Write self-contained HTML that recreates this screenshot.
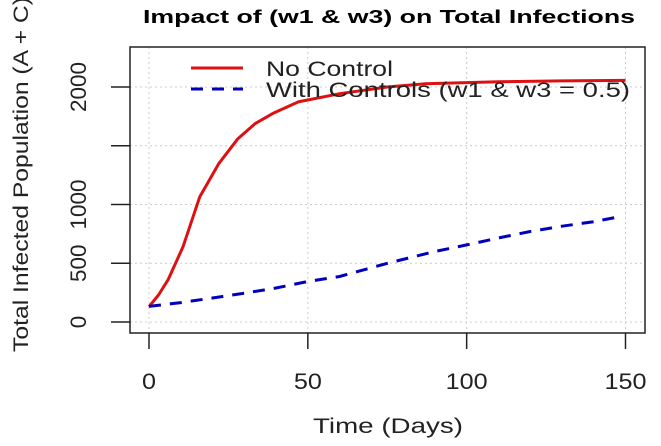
<!DOCTYPE html>
<html><head><meta charset="utf-8"><style>
html,body{margin:0;padding:0;background:#fff;}
svg{display:block;font-family:"Liberation Sans",Arial,sans-serif;}
</style></head><body>
<svg id="chart" width="661" height="446" viewBox="0 0 661 446">
<text x="143" y="23" font-size="18" font-weight="bold" fill="#000" textLength="492" lengthAdjust="spacingAndGlyphs">Impact of (w1 &amp; w3) on Total Infections</text>
<g id="grid"></g>
<g id="series"></g>
<rect x="130" y="47" width="515" height="286" fill="none" stroke="#222" stroke-width="1.5"/>
<g id="axes"></g>
<text x="313" y="433" font-size="21" fill="#222" textLength="150" lengthAdjust="spacingAndGlyphs">Time (Days)</text>
<text transform="translate(28,352) rotate(-90)" font-size="21" fill="#222" textLength="355" lengthAdjust="spacingAndGlyphs">Total Infected Population (A + C)</text>
<g>
<line x1="191" y1="68" x2="243" y2="68" stroke="#d11" stroke-width="3"/>
<text x="266" y="76" font-size="21" fill="#222" textLength="127" lengthAdjust="spacingAndGlyphs">No Control</text>
<line x1="191" y1="89" x2="243" y2="89" stroke="#00b" stroke-width="3" stroke-dasharray="12,9"/>
<text x="266" y="97" font-size="21" fill="#222" textLength="364" lengthAdjust="spacingAndGlyphs">With Controls (w1 &amp; w3 = 0.5)</text>
</g>
</svg>
<script>
const xTicks = [0, 50, 100, 150];
const yTicks = [0, 500, 1000, 2000];
const yGrid = [0, 500, 1000, 1500, 2000];
const noControlT = [0, 3, 6, 10.7, 16, 22, 28, 33.5, 39, 47, 60, 75, 87, 110, 130, 150];
const noControlV = [130, 230, 360, 640, 1066, 1350, 1560, 1690, 1775, 1873, 1943, 2000, 2028, 2045, 2052, 2056];
const controlT = [0, 10, 20, 30, 40, 50, 60, 75, 90, 100, 110, 120, 130, 140, 148];
const controlV = [133, 165, 204, 245, 289, 345, 387, 500, 600, 656, 715, 770, 815, 854, 895];
const ns = 'http://www.w3.org/2000/svg';
const xs = v => 149 + v * (625.5 - 149) / 150;
const ys = v => 322 - v * (322 - 87) / 2000;
function mk(tag, attrs, parent) {
  const e = document.createElementNS(ns, tag);
  for (const k in attrs) e.setAttribute(k, attrs[k]);
  parent.appendChild(e);
  return e;
}
const grid = document.getElementById('grid');
const axes = document.getElementById('axes');
const series = document.getElementById('series');
xTicks.forEach(t => {
  const g = mk('line', {x1: xs(t), x2: xs(t), y1: 47, y2: 333, stroke: '#ccc', 'stroke-dasharray': '2,3'}, grid);
  
  
  const tk = mk('line', {x1: xs(t), x2: xs(t), y1: 333, y2: 349, stroke: '#222', 'stroke-width': 1.5}, axes);
  
  
  const s = String(t);
  const w = s.length * 14;
  const lb = mk('text', {x: xs(t) - w / 2, y: 389, 'font-size': 22, fill: '#222', textLength: w, lengthAdjust: 'spacingAndGlyphs'}, axes);
  lb.textContent = s;
  
  
});
yGrid.forEach(v => {
  const g = mk('line', {x1: 130, x2: 645, y1: ys(v), y2: ys(v), stroke: '#ccc', 'stroke-dasharray': '2,3'}, grid);
  
  
  const tk = mk('line', {x1: 111, x2: 130, y1: ys(v), y2: ys(v), stroke: '#222', 'stroke-width': 1.5}, axes);
  
  
});
yTicks.forEach(v => {
  const s = String(v);
  const w = s.length * 12.5;
  const lb = mk('text', {transform: 'translate(86,' + (ys(v) + w / 2) + ') rotate(-90)', 'font-size': 22, fill: '#222', textLength: w, lengthAdjust: 'spacingAndGlyphs'}, axes);
  lb.textContent = s;
  
  
});
function pts(T, V) { return T.map((t, i) => xs(t).toFixed(1) + ',' + ys(V[i]).toFixed(1)).join(' '); }
const l1 = mk('polyline', {points: pts(noControlT, noControlV), fill: 'none', stroke: '#d11', 'stroke-width': 3, 'stroke-linejoin': 'round'}, series);


const l2 = mk('polyline', {points: pts(controlT, controlV), fill: 'none', stroke: '#00b', 'stroke-width': 3, 'stroke-dasharray': '12,9'}, series);


</script>
</body></html>
